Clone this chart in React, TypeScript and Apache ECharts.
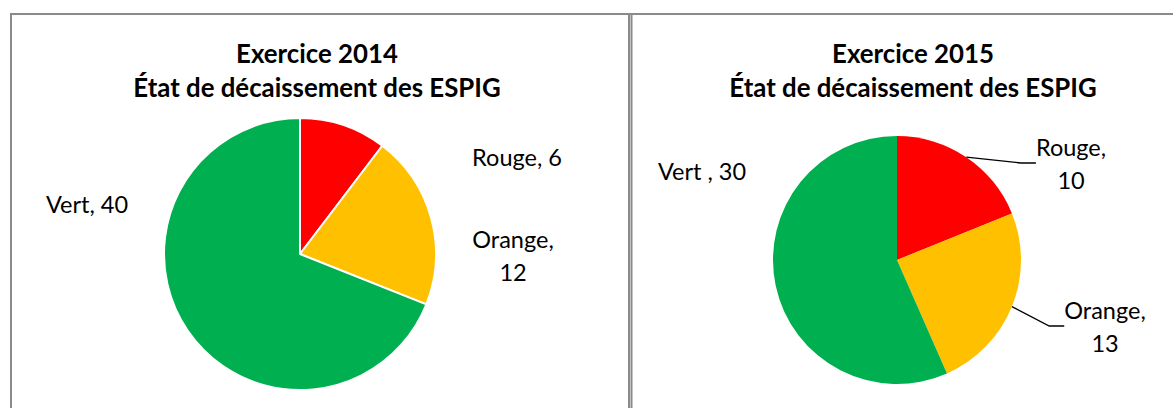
import React, { useEffect, useRef } from "react";
import * as echarts from "echarts";

const categories2014 = ["Rouge", "Orange", "Vert"];
const values2014 = [6, 12, 40];
const categories2015 = ["Rouge", "Orange", "Vert "];
const values2015 = [10, 13, 30];
const sliceColors = ["#FF0000", "#FFC000", "#00B050"];
const titles = [
  "Exercice 2014\nÉtat de décaissement des ESPIG",
  "Exercice 2015\nÉtat de décaissement des ESPIG",
];
// label line breaks (name on one line, value on the next)
const wrap2014 = [false, true, false];
const wrap2015 = [true, true, false];
const leader2015 = [true, true, false];
// label anchor positions (centre of label block)
const labelPos2014 = [
  [517, 157],
  [513, 255],
  [87, 204],
];
const labelPos2015 = [
  [1071, 163],
  [1105, 326],
  [702, 171],
];

const FONT = "Lato, 'Open Sans', sans-serif";
const BORDER = "#8a8a8a";

export default function App() {
  const ref = useRef<HTMLDivElement>(null);
  useEffect(() => {
    if (!ref.current) return;
    const chart = echarts.init(ref.current, undefined, { renderer: "svg" });
    const mkData = (cats: string[], vals: number[], lead?: boolean[]) =>
      cats.map((c, i) => ({
        name: c,
        value: vals[i],
        itemStyle: { color: sliceColors[i] },
        ...(lead ? { labelLine: { show: lead[i] } } : {}),
      }));
    const labelStyle = {
      color: "#000",
      fontFamily: FONT,
      fontSize: 23.5,
      lineHeight: 33,
      align: "center" as const,
    };
    chart.setOption({
      animation: false,
      backgroundColor: "#fff",
      title: titles.map((t, i) => ({
        text: t,
        left: i === 0 ? 317 : 913,
        top: 36,
        textAlign: "center",
        padding: 0,
        textStyle: {
          fontFamily: FONT,
          fontWeight: "bold",
          fontSize: 25.8,
          lineHeight: 34,
          color: "#000",
          align: "center",
        },
      })),
      graphic: [
        { type: "line", shape: { x1: 11, y1: 13, x2: 11, y2: 408 }, style: { stroke: BORDER, lineWidth: 2 } },
        { type: "line", shape: { x1: 10, y1: 14, x2: 630, y2: 14 }, style: { stroke: BORDER, lineWidth: 2 } },
        { type: "line", shape: { x1: 629, y1: 13, x2: 629, y2: 408 }, style: { stroke: BORDER, lineWidth: 2 } },
        { type: "line", shape: { x1: 631.5, y1: 13, x2: 631.5, y2: 408 }, style: { stroke: BORDER, lineWidth: 2 } },
        { type: "line", shape: { x1: 630, y1: 14, x2: 1173, y2: 14 }, style: { stroke: BORDER, lineWidth: 2 } },
      ],
      series: [
        {
          type: "pie",
          center: [300, 254],
          radius: 136,
          startAngle: 90,
          clockwise: true,
          data: mkData(categories2014, values2014),
          itemStyle: { borderColor: "#fff", borderWidth: 2 },
          label: {
            show: true,
            position: "outside",
            ...labelStyle,
            formatter: (p: any) =>
              p.name + "," + (wrap2014[p.dataIndex] ? "\n" : " ") + p.value,
          },
          labelLine: { show: false },
          labelLayout: (p: any) => ({
            x: labelPos2014[p.dataIndex][0],
            y: labelPos2014[p.dataIndex][1],
            align: "center",
            verticalAlign: "middle",
          }),
          emphasis: { disabled: true },
        },
        {
          type: "pie",
          center: [897, 260],
          radius: 124,
          startAngle: 90,
          clockwise: true,
          data: mkData(categories2015, values2015, leader2015),
          itemStyle: { borderWidth: 0 },
          label: {
            show: true,
            position: "outside",
            ...labelStyle,
            formatter: (p: any) =>
              p.name + "," + (wrap2015[p.dataIndex] ? "\n" : " ") + p.value,
          },
          labelLine: {
            show: true,
            length: 20,
            length2: 15,
            lineStyle: { color: "#000", width: 1.3 },
          },
          labelLayout: (p: any) => ({
            x: labelPos2015[p.dataIndex][0],
            y: labelPos2015[p.dataIndex][1],
            align: "center",
            verticalAlign: "middle",
          }),
          emphasis: { disabled: true },
        },
      ],
    });
    return () => chart.dispose();
  }, []);
  return (
    <div
      ref={ref}
      style={{ position: "fixed", left: 0, top: 0, width: 1173, height: 408 }}
    />
  );
}
